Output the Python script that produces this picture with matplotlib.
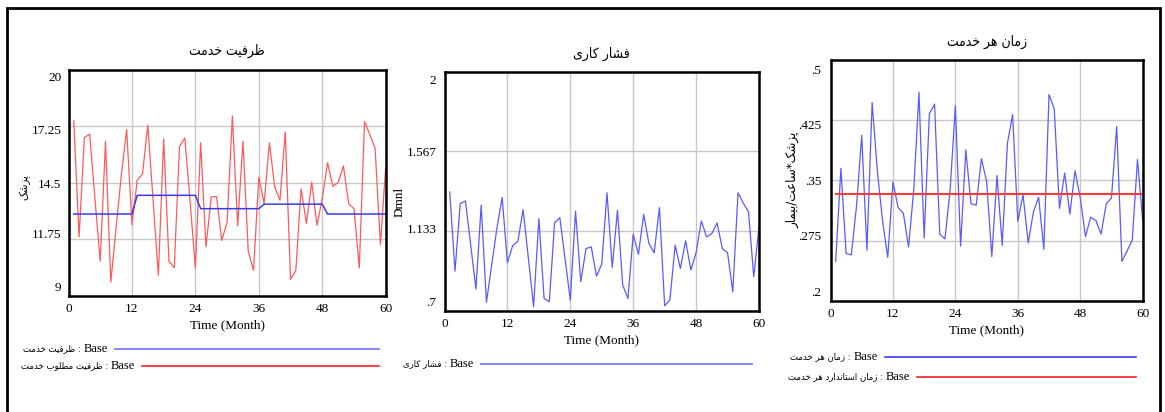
import numpy as np
import matplotlib
matplotlib.use("Agg")
import matplotlib.pyplot as plt
from matplotlib.lines import Line2D
from matplotlib.patches import Rectangle
from matplotlib.offsetbox import TextArea, HPacker, AnnotationBbox

W, H = 1165, 412

# ---- data ----
months = np.arange(1, 61)

# panel 1: service capacity (blue) and desired service capacity (red)
capacity = [12.99] * 12 + [13.9] * 12 + [13.25] * 12 + [13.47] * 12 + [12.99] * 12
capacity_desired = [17.52, 11.87, 16.71, 16.88, 13.74, 10.69, 16.53, 9.68, 12.3, 14.9,
                    17.10, 12.47, 14.63, 14.95, 17.31, 13.66, 10.01, 16.66, 10.69, 10.38,
                    16.28, 16.69, 13.6, 10.36, 16.46, 11.39, 13.82, 13.85, 11.71, 12.6,
                    17.76, 12.41, 16.53, 11.17, 10.25, 14.79, 13.49, 16.46, 14.31, 13.66,
                    16.98, 9.81, 10.25, 14.22, 12.52, 14.55, 12.44, 13.74, 15.49, 14.34,
                    14.52, 15.33, 13.49, 13.25, 10.36, 17.50, 16.85, 16.17, 11.50, 15.28]

# panel 2: work pressure
pressure = [1.346, 0.916, 1.283, 1.297, 1.057, 0.819, 1.274, 0.747, 0.949, 1.150,
            1.317, 0.962, 1.054, 1.079, 1.250, 0.987, 0.723, 1.202, 0.768, 0.750,
            1.178, 1.207, 0.983, 0.759, 1.241, 0.859, 1.039, 1.048, 0.889, 0.955,
            1.342, 0.936, 1.247, 0.841, 0.768, 1.117, 1.008, 1.225, 1.066, 1.016,
            1.261, 0.729, 0.759, 1.057, 0.931, 1.081, 0.922, 1.017, 1.189, 1.102,
            1.120, 1.178, 1.039, 1.016, 0.804, 1.342, 1.286, 1.238, 0.886, 1.156]

# panel 3: time per service (blue) and standard time (red)
serv_time = [0.249, 0.365, 0.259, 0.257, 0.318, 0.406, 0.263, 0.447, 0.362, 0.300,
             0.254, 0.348, 0.316, 0.309, 0.267, 0.338, 0.460, 0.278, 0.433, 0.445,
             0.283, 0.277, 0.339, 0.443, 0.268, 0.388, 0.321, 0.319, 0.377, 0.349,
             0.255, 0.356, 0.269, 0.396, 0.432, 0.299, 0.332, 0.272, 0.311, 0.329,
             0.264, 0.457, 0.439, 0.315, 0.359, 0.308, 0.362, 0.328, 0.280, 0.304,
             0.300, 0.283, 0.321, 0.328, 0.417, 0.249, 0.262, 0.276, 0.376, 0.300]
std_time = [0.333] * 60

xticks = [0, 12, 24, 36, 48, 60]
yticks1 = [9, 11.75, 14.5, 17.25, 20]
ylabels1 = ["9", "11.75", "14.5", "17.25", "20"]
yticks2 = [0.7, 1.133, 1.567, 2]
ylabels2 = [".7", "1.133", "1.567", "2"]
yticks3 = [0.2, 0.275, 0.35, 0.425, 0.5]
ylabels3 = [".2", ".275", ".35", ".425", ".5"]

# ---- minimal persian shaping (matplotlib has no bidi / joining) ----
FORMS = {  # isolated, final, initial, medial
    "ا": (0xFE8D, 0xFE8E), "د": (0xFEA9, 0xFEAA), "ر": (0xFEAD, 0xFEAE),
    "ز": (0xFEAF, 0xFEB0), "و": (0xFEED, 0xFEEE),
    "ب": (0xFE8F, 0xFE90, 0xFE91, 0xFE92), "پ": (0xFB56, 0xFB57, 0xFB58, 0xFB59),
    "ت": (0xFE95, 0xFE96, 0xFE97, 0xFE98), "خ": (0xFEA5, 0xFEA6, 0xFEA7, 0xFEA8),
    "س": (0xFEB1, 0xFEB2, 0xFEB3, 0xFEB4), "ش": (0xFEB5, 0xFEB6, 0xFEB7, 0xFEB8),
    "ط": (0xFEC1, 0xFEC2, 0xFEC3, 0xFEC4), "ظ": (0xFEC5, 0xFEC6, 0xFEC7, 0xFEC8),
    "ع": (0xFEC9, 0xFECA, 0xFECB, 0xFECC), "ف": (0xFED1, 0xFED2, 0xFED3, 0xFED4),
    "ک": (0xFB8E, 0xFB8F, 0xFB90, 0xFB91), "ل": (0xFEDD, 0xFEDE, 0xFEDF, 0xFEE0),
    "م": (0xFEE1, 0xFEE2, 0xFEE3, 0xFEE4), "ن": (0xFEE5, 0xFEE6, 0xFEE7, 0xFEE8),
    "ه": (0xFEE9, 0xFEEA, 0xFEEB, 0xFEEC), "ی": (0xFBFC, 0xFBFD, 0xFBFE, 0xFBFF),
}


def fa(s):
    out = []
    for i, c in enumerate(s):
        if c not in FORMS:
            out.append(c)
            continue
        prev = s[i - 1] if i > 0 else ""
        nxt = s[i + 1] if i + 1 < len(s) else ""
        join_prev = prev in FORMS and len(FORMS[prev]) == 4
        join_next = len(FORMS[c]) == 4 and nxt in FORMS
        f = FORMS[c]
        if join_prev and join_next:
            out.append(chr(f[3]))
        elif join_prev:
            out.append(chr(f[1]))
        elif join_next:
            out.append(chr(f[2]))
        else:
            out.append(chr(f[0]))
    return "".join(out)[::-1]


plt.rcParams["font.family"] = ["Liberation Serif", "DejaVu Sans"]
AR = dict(family=["DejaVu Sans"], fontstretch="condensed")

fig = plt.figure(figsize=(W / 100, H / 100), dpi=100)
fig.add_artist(Rectangle((7 / W, -0.05), 1153 / W, 1.05 - 8 / H, transform=fig.transFigure,
                         fill=False, ec="black", lw=2))


def box(l, t, r, b):
    return [l / W, 1 - b / H, (r - l) / W, (b - t) / H]


def setup(ax, yticks, ylabels, ylim, dys, gap):
    ax.set_xlim(0, 60)
    ax.set_ylim(*ylim)
    ax.set_xticks(xticks)
    ax.set_yticks(yticks)
    ax.set_yticklabels([])
    ax.tick_params(length=0, labelsize=9.5, pad=5)
    ax.grid(True, color="#c8c8c8", lw=1)
    ax.set_axisbelow(True)
    for s in ax.spines.values():
        s.set_linewidth(1.8)
    for v, lbl, dy in zip(yticks, ylabels, dys):
        ax.annotate(lbl, xy=(0, v), xycoords=ax.get_yaxis_transform(),
                    xytext=(-gap, dy), textcoords="offset pixels",
                    ha="right", va="center", fontsize=9.5)
    ax.set_xlabel("Time (Month)", fontsize=9.5, labelpad=3)


def legend_row(y, x0, x1, label, color):
    name = TextArea(fa(label) + " :", textprops=dict(fontsize=6.8, **AR))
    run = TextArea("Base", textprops=dict(fontsize=9, family="Liberation Serif"))
    row = HPacker(children=[name, run], align="center", pad=0, sep=2)
    fig.add_artist(AnnotationBbox(row, ((x0 - 7) / W, 1 - y / H), xycoords="figure fraction",
                                  box_alignment=(1, 0.5), frameon=False, pad=0))
    fig.add_artist(Line2D([x0 / W, x1 / W], [1 - y / H, 1 - y / H],
                          transform=fig.transFigure, color=color, lw=1.2))


# panel 1
ax1 = fig.add_axes(box(68.5, 70, 385.7, 296))
ax1.plot(months, capacity_desired, color="#ff5a5a", lw=0.9)
ax1.plot(months, capacity, color="#3a3ae8", lw=1.1)
setup(ax1, yticks1, ylabels1, (9, 20), [8, 4, -2, -5, -8], 7)
ax1.set_title(fa("ظرفیت خدمت"), fontsize=10, pad=11, **AR)
ax1.set_ylabel(fa("پزشک"), fontsize=8, va="center", **AR)
ax1.yaxis.set_label_coords(-0.137, 0.482)
legend_row(349, 115, 379, "ظرفیت خدمت", "#7070ff")
legend_row(366, 142, 379, "ظرفیت مطلوب خدمت", "#ff2020")

# panel 2
ax2 = fig.add_axes(box(444.5, 71.5, 759, 311))
ax2.plot(months, pressure, color="#5a5aff", lw=0.9)
setup(ax2, yticks2, ylabels2, (0.7, 2), [8, 1, -2, -9], 8)
ax2.set_title(fa("فشار کاری"), fontsize=10, pad=10, **AR)
ax2.set_ylabel("Dmnl", fontsize=9.5, va="center")
ax2.yaxis.set_label_coords(-0.1415, 0.456)
legend_row(364, 481, 752, "فشار کاری", "#7070ff")

# panel 3
ax3 = fig.add_axes(box(830.5, 60, 1142.7, 300.7))
ax3.plot(months, serv_time, color="#5a5aff", lw=0.9)
ax3.plot(months, std_time, color="#ff3a3a", lw=1.5)
setup(ax3, yticks3, ylabels3, (0.2, 0.5), [8, 4, -2, -6, -11], 9)
ax3.set_title(fa("زمان هر خدمت"), fontsize=10, pad=10, **AR)
ax3.set_ylabel(fa("پزشک*ساعت/بیمار"), fontsize=9.5, va="center", **AR)
ax3.yaxis.set_label_coords(-0.12, 0.501)
legend_row(357, 885, 1136, "زمان هر خدمت", "#3a3aff")
legend_row(377, 917, 1136, "زمان استاندارد هر خدمت", "#ff2020")

fig.savefig("out.png", dpi=100)
